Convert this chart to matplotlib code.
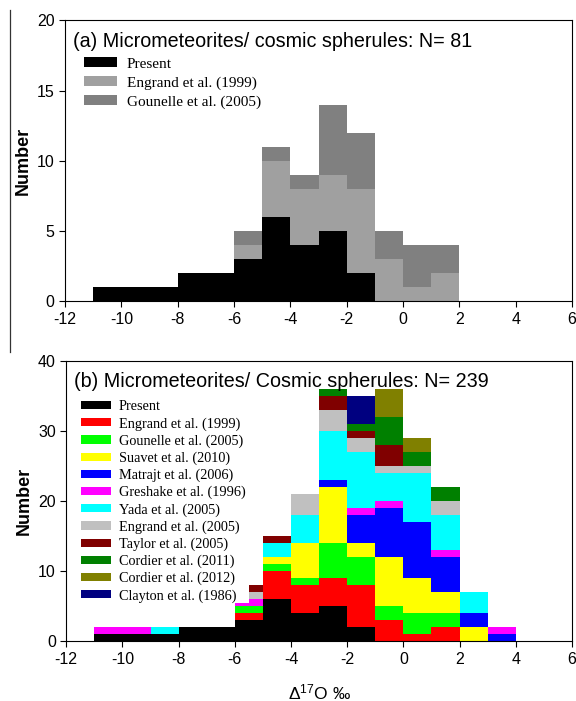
import numpy as np
import matplotlib
matplotlib.use("Agg")
import matplotlib.pyplot as plt
from matplotlib.lines import Line2D

plt.rcParams['font.family'] = ['Liberation Sans', 'DejaVu Sans']
plt.rcParams['mathtext.fontset'] = 'custom'
plt.rcParams['mathtext.rm'] = 'Liberation Sans'
plt.rcParams['mathtext.it'] = 'Liberation Sans:italic'
plt.rcParams['axes.unicode_minus'] = False

# left bin edges (1 permil bins)
bins_a = np.arange(-11, 2)
bins_b = np.arange(-11, 4)

# (a) micrometeorites / cosmic spherules
present_a = [1, 1, 1, 2, 2, 3, 6, 4, 5, 2, 0, 0, 0]
engrand99_a = [0, 0, 0, 0, 0, 1, 4, 4, 4, 6, 3, 1, 2]
gounelle05_a = [0, 0, 0, 0, 0, 1, 1, 1, 5, 4, 2, 3, 2]
labels_a = ['Present', 'Engrand et al. (1999)', 'Gounelle et al. (2005)']
colors_a = ['#000000', '#a0a0a0', '#808080']

# (b) all compiled data
present = [1, 1, 1, 2, 2, 3, 6, 4, 5, 2, 0, 0, 0, 0, 0]
engrand99 = [0, 0, 0, 0, 0, 1, 4, 4, 4, 6, 3, 1, 2, 0, 0]
gounelle05 = [0, 0, 0, 0, 0, 1, 1, 1, 5, 4, 2, 3, 2, 0, 0]
suavet10 = [0, 0, 0, 0, 0, 0, 1, 5, 8, 2, 7, 5, 3, 2, 0]
matrajt06 = [0, 0, 0, 0, 0, 0, 0, 0, 1, 4, 7, 8, 5, 2, 1]
greshake96 = [1, 1, 0, 0, 0, 0.5, 0, 0, 0, 1, 1, 0, 1, 0, 1]
yada05 = [0, 0, 1, 0, 0, 0, 2, 4, 7, 8, 4, 7, 5, 3, 0]
engrand05 = [0, 0, 0, 0, 0, 0, 0, 3, 3, 2, 1, 1, 2, 0, 0]
taylor05 = [0, 0, 0, 0, 0, 0, 1, 0, 2, 1, 3, 0, 0, 0, 0]
cordier11 = [0, 0, 0, 0, 0, 0, 0, 0, 1, 1, 4, 2, 2, 0, 0]
cordier12 = [0, 0, 0, 0, 0, 0, 0, 0, 0, 0, 4, 2, 0, 0, 0]
clayton86 = [0, 0, 0, 0, 0, 0, 0, 0, 0, 4, 0, 0, 0, 0, 0]

# half-width bin sitting on the -6..-5 column
half_left = -5.5
half_greshake96 = 0.5
half_engrand05 = 1
half_taylor05 = 1

labels_b = ['Present', 'Engrand et al. (1999)', 'Gounelle et al. (2005)',
            'Suavet et al. (2010)', 'Matrajt et al. (2006)', 'Greshake et al. (1996)',
            'Yada et al. (2005)', 'Engrand et al. (2005)', 'Taylor et al. (2005)',
            'Cordier et al. (2011)', 'Cordier et al. (2012)', 'Clayton et al. (1986)']
colors_b = ['#000000', '#ff0000', '#00ff00', '#ffff00', '#0000ff', '#ff00ff',
            '#00ffff', '#c0c0c0', '#800000', '#008000', '#808000', '#000080']


def stack(ax, lefts, series, colors, labels, width=1.0, base=None):
    bottom = np.zeros(len(lefts)) if base is None else np.array(base, dtype=float)
    for vals, c, lab in zip(series, colors, labels):
        vals = np.array(vals, dtype=float)
        ax.bar(lefts, vals, width=width, bottom=bottom, align='edge',
               color=c, edgecolor='none', label=lab)
        bottom = bottom + vals
    return bottom


def style(ax, ymax, ystep):
    ax.set_xlim(-12, 6)
    ax.set_ylim(0, ymax)
    ax.set_xticks(range(-12, 7, 2))
    ax.set_yticks(range(0, ymax + 1, ystep))
    ax.tick_params(direction='out', length=4, width=0.8, labelsize=11.5)
    for s in ax.spines.values():
        s.set_linewidth(0.8)
    ax.set_ylabel('Number', fontsize=13, fontweight='bold', labelpad=4)


fig = plt.figure(figsize=(5.76, 7.01), dpi=100)
ax1 = fig.add_axes([0.113, 0.570, 0.880, 0.401])
ax2 = fig.add_axes([0.115, 0.085, 0.878, 0.400])

stack(ax1, bins_a, [present_a, engrand99_a, gounelle05_a], colors_a, labels_a)
style(ax1, 20, 5)
ax1.text(0.015, 0.96, '(a) Micrometeorites/ cosmic spherules: N= 81',
         transform=ax1.transAxes, fontsize=14.2, va='top', ha='left')
ax1.legend(loc='upper left', bbox_to_anchor=(0.025, 0.89), frameon=False,
           prop={'family': 'Liberation Serif', 'size': 11},
           handlelength=2.2, handleheight=0.6, handletextpad=0.6,
           labelspacing=0.36, borderaxespad=0)

series_b = [present, engrand99, gounelle05, suavet10, matrajt06, greshake96,
            yada05, engrand05, taylor05, cordier11, cordier12, clayton86]
tops = stack(ax2, bins_b, series_b, colors_b, labels_b)
half_base = tops[list(bins_b).index(-6)]
stack(ax2, [half_left], [[half_greshake96], [half_engrand05], [half_taylor05]],
      [colors_b[5], colors_b[7], colors_b[8]], ['_a', '_b', '_c'],
      width=0.5, base=[half_base])
style(ax2, 40, 10)
ax2.set_xlabel('Δ$^{17}$O ‰', fontsize=12.5, labelpad=11)
ax2.text(0.015, 0.96, '(b) Micrometeorites/ Cosmic spherules: N= 239',
         transform=ax2.transAxes, fontsize=14.2, va='top', ha='left')
ax2.legend(loc='upper left', bbox_to_anchor=(0.018, 0.88), frameon=False,
           prop={'family': 'Liberation Serif', 'size': 10.3},
           handlelength=2.1, handleheight=0.5, handletextpad=0.55,
           labelspacing=0.26, borderaxespad=0)

fig.add_artist(Line2D([10 / 576, 10 / 576], [1 - 10 / 701, 1 - 352 / 701],
                      color='#333333', lw=0.9))

fig.savefig('out.png', dpi=100)
